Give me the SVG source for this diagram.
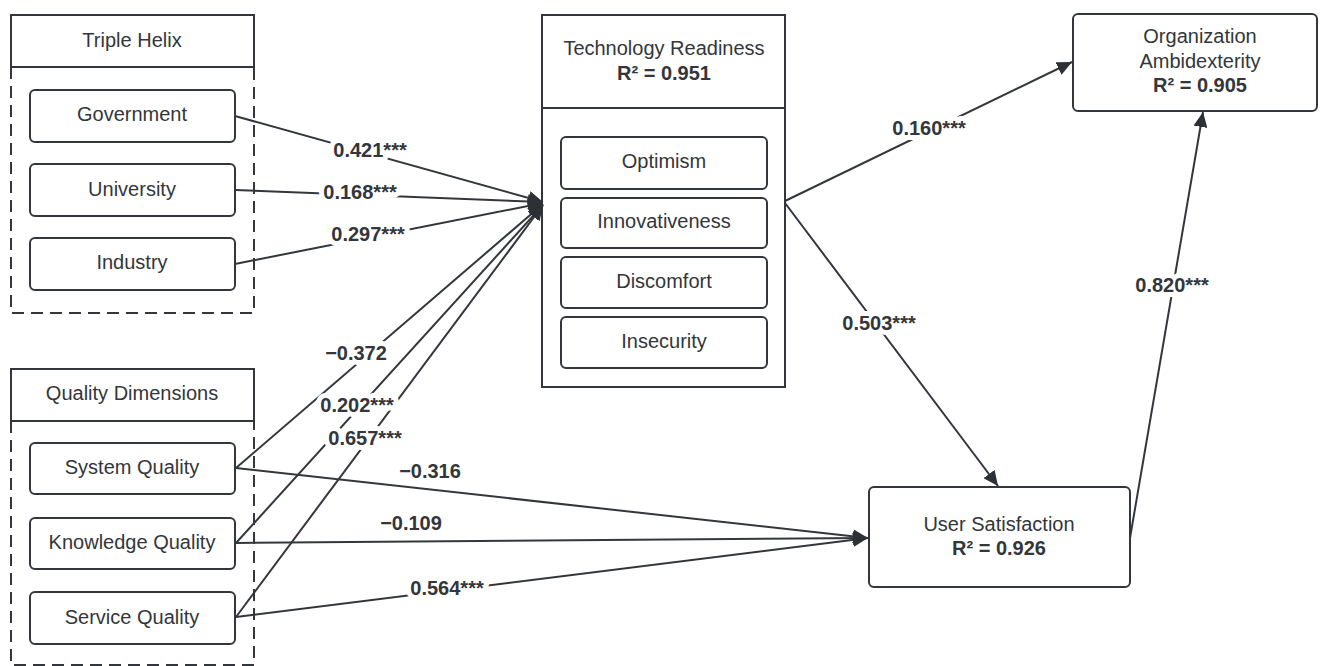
<svg xmlns="http://www.w3.org/2000/svg" width="1325" height="666" viewBox="0 0 1325 666">
<defs>
<style>
.box{fill:#fff;stroke:#33373c;stroke-width:2}
.dash{fill:none;stroke:#33373c;stroke-width:2;stroke-dasharray:12 7}
.t{font-family:"Liberation Sans",Arial,sans-serif;font-size:20px;fill:#33363a;text-anchor:middle}
.b{font-weight:bold}
.c{fill:none;stroke:#33373c;stroke-width:2}
.lab{font-family:"Liberation Sans",Arial,sans-serif;font-size:20px;font-weight:bold;fill:#33363a;text-anchor:middle;paint-order:stroke;stroke:#fff;stroke-width:10;stroke-linejoin:round}
</style>
<marker id="ah" markerUnits="userSpaceOnUse" markerWidth="16" markerHeight="14" refX="15" refY="7" orient="auto">
<path d="M0,0 L15,7 L0,14 z" fill="#2d3035"/>
</marker>
</defs>
<rect width="1325" height="666" fill="#fff"/>

<g id="triple-helix">
<rect class="box" x="11" y="15" width="243" height="52"/>
<text class="t" x="132" y="47">Triple Helix</text>
<path class="dash" d="M11,67 V313 H254 V67"/>
</g>
<g id="government"><rect class="box" x="30" y="90" width="205" height="52" rx="5"/><text class="t" x="132" y="121">Government</text></g>
<g id="university"><rect class="box" x="30" y="164" width="205" height="52" rx="5"/><text class="t" x="132" y="196">University</text></g>
<g id="industry"><rect class="box" x="30" y="238" width="205" height="52" rx="5"/><text class="t" x="132" y="269">Industry</text></g>

<g id="quality-dimensions">
<rect class="box" x="11" y="369" width="243" height="52"/>
<text class="t" x="132" y="400">Quality Dimensions</text>
<path class="dash" d="M11,421 V665 H254 V421"/>
</g>
<g id="system-quality"><rect class="box" x="30" y="443" width="205" height="51" rx="5"/><text class="t" x="132" y="474">System Quality</text></g>
<g id="knowledge-quality"><rect class="box" x="30" y="518" width="205" height="51" rx="5"/><text class="t" x="132" y="549">Knowledge Quality</text></g>
<g id="service-quality"><rect class="box" x="30" y="592" width="205" height="52" rx="5"/><text class="t" x="132" y="624">Service Quality</text></g>

<g id="technology-readiness">
<rect class="box" x="542" y="15" width="243" height="372"/>
<line class="c" x1="542" y1="108" x2="785" y2="108"/>
<text class="t" x="664" y="55">Technology Readiness</text>
<text class="t b" x="664" y="80">R² = 0.951</text>
</g>
<g id="optimism"><rect class="box" x="561" y="137" width="206" height="52" rx="5"/><text class="t" x="664" y="168">Optimism</text></g>
<g id="innovativeness"><rect class="box" x="561" y="198" width="206" height="50" rx="5"/><text class="t" x="664" y="228">Innovativeness</text></g>
<g id="discomfort"><rect class="box" x="561" y="257" width="206" height="51" rx="5"/><text class="t" x="664" y="288">Discomfort</text></g>
<g id="insecurity"><rect class="box" x="561" y="317" width="206" height="51" rx="5"/><text class="t" x="664" y="348">Insecurity</text></g>

<g id="organization-ambidexterity">
<rect class="box" x="1073" y="14" width="244" height="97" rx="5"/>
<text class="t" x="1200" y="43">Organization</text>
<text class="t" x="1200" y="68">Ambidexterity</text>
<text class="t b" x="1200" y="92">R² = 0.905</text>
</g>

<g id="user-satisfaction">
<rect class="box" x="869" y="487" width="261" height="100" rx="5"/>
<text class="t" x="999" y="531">User Satisfaction</text>
<text class="t b" x="999" y="555">R² = 0.926</text>
</g>

<g id="connectors">
<line class="c" x1="235" y1="116" x2="543" y2="202" marker-end="url(#ah)"/>
<line class="c" x1="235" y1="190" x2="543" y2="202" marker-end="url(#ah)"/>
<line class="c" x1="235" y1="264" x2="543" y2="203" marker-end="url(#ah)"/>
<line class="c" x1="236" y1="468" x2="543" y2="204" marker-end="url(#ah)"/>
<line class="c" x1="236" y1="543" x2="543" y2="205" marker-end="url(#ah)"/>
<line class="c" x1="236" y1="617" x2="543" y2="205" marker-end="url(#ah)"/>
<line class="c" x1="236" y1="468" x2="868" y2="538" marker-end="url(#ah)"/>
<line class="c" x1="236" y1="543" x2="868" y2="538" marker-end="url(#ah)"/>
<line class="c" x1="236" y1="617" x2="868" y2="538" marker-end="url(#ah)"/>
<line class="c" x1="785" y1="201" x2="1072" y2="62" marker-end="url(#ah)"/>
<line class="c" x1="785" y1="203" x2="998" y2="486" marker-end="url(#ah)"/>
<line class="c" x1="1130" y1="538" x2="1203" y2="112" marker-end="url(#ah)"/>

<text class="lab" x="370" y="157">0.421***</text>
<text class="lab" x="360" y="199">0.168***</text>
<text class="lab" x="368" y="241">0.297***</text>
<text class="lab" x="356" y="360">−0.372</text>
<text class="lab" x="357" y="412">0.202***</text>
<text class="lab" x="365" y="445">0.657***</text>
<text class="lab" x="430" y="478">−0.316</text>
<text class="lab" x="411" y="530">−0.109</text>
<text class="lab" x="447" y="595">0.564***</text>
<text class="lab" x="929" y="135">0.160***</text>
<text class="lab" x="879" y="330">0.503***</text>
<text class="lab" x="1172" y="292">0.820***</text>
</g>
</svg>
